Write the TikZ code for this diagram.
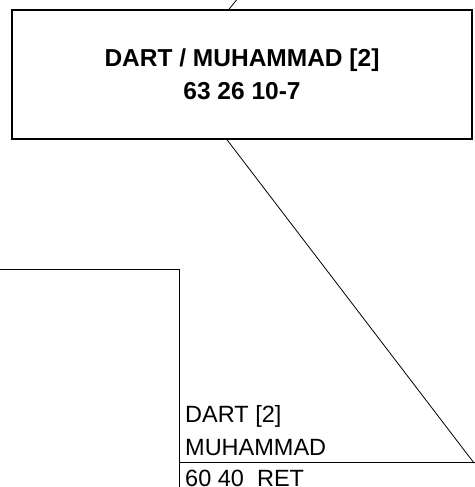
\documentclass[tikz,border=0pt]{standalone}
\usepackage{fontspec}
\setmainfont{Liberation Sans}
\usetikzlibrary{positioning}

\begin{document}
\begin{tikzpicture}[x=1pt,y=-1pt,
    caja/.style={draw,line width=1.5pt,rectangle,inner sep=0pt,
      minimum width=460pt,minimum height=129pt,align=center,
      font=\fontsize{24.5}{33}\selectfont\bfseries},
    rama/.style={line width=0.8pt},
    borde/.style={line width=1pt},
    etiqueta/.style={anchor=base west,inner sep=0pt,
      font=\fontsize{23.5}{33}\selectfont}]
  \useasboundingbox (0,0) rectangle (474,487);

  % Nodo principal
  \node[caja] (padre) at (242,74.5) {DART / MUHAMMAD [2]\\63 26 10-7};

  % Ramas del nodo principal
  \coordinate (arriba) at (236.5,0);
  \coordinate (abajo) at (474,463);
  \draw[rama] (arriba) -- ([xshift=-13pt]padre.north);
  \draw[rama] ([xshift=-15pt]padre.south) -- (abajo);

  % Caja parcial a la izquierda
  \draw[borde] (0,269) -- (179.5,269) -- (179.5,490);

  % Caja hija (abajo a la derecha)
  \draw[borde] (179.5,462.7) -- (476,462.7);
  \node[etiqueta] (hijoa) at (185,422.3) {DART [2]};
  \node[etiqueta] (hijob) at (185,455) {MUHAMMAD};
  \node[etiqueta] (hijoc) at (185,486.5) {60 40\ \ RET};
\end{tikzpicture}
\end{document}
